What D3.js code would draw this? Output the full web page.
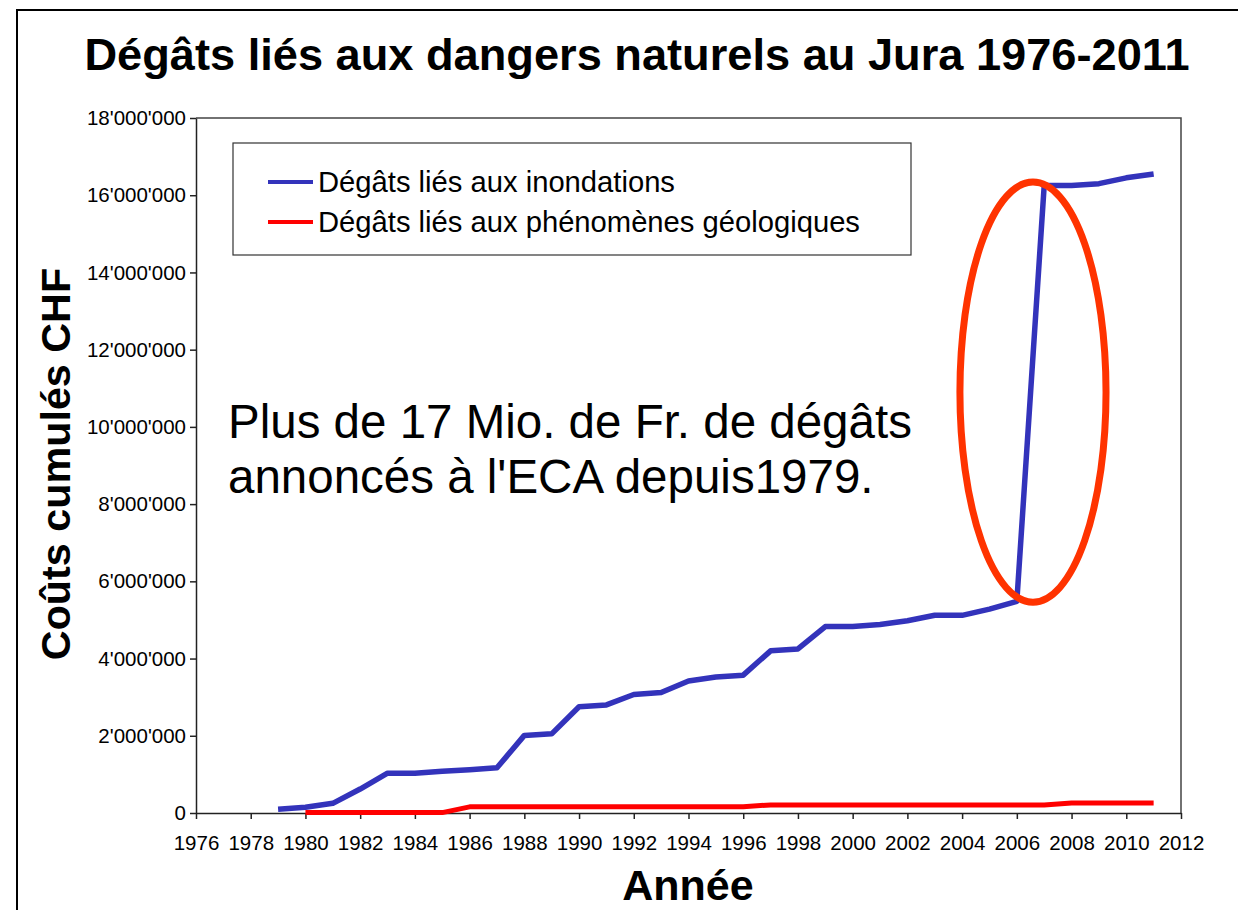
<!DOCTYPE html>
<html>
<head>
<meta charset="utf-8">
<script src="https://cdn.jsdelivr.net/npm/d3@7"></script>
<style>
  html, body { margin: 0; padding: 0; background: #fff; }
  svg { display: block; font-family: "Liberation Sans", Arial, sans-serif; }
</style>
</head>
<body>
<svg id="chart" width="1238" height="910"></svg>
<script>
const title = "Dégâts liés aux dangers naturels au Jura 1976-2011";
const yLabel = "Coûts cumulés CHF";
const xLabel = "Année";
const seriesNames = ["Dégâts liés aux inondations", "Dégâts liés aux phénomènes géologiques"];
const seriesColors = ["#3333bb", "#ff0000"];
const annotationLines = ["Plus de 17 Mio. de Fr. de dégâts", "annoncés à l'ECA depuis1979."];

const floodYears = [1979,1980,1981,1982,1983,1984,1985,1986,1987,1988,1989,1990,1991,1992,1993,1994,1995,1996,1997,1998,1999,2000,2001,2002,2003,2004,2005,2006,2007,2008,2009,2010,2011];
const floodValues = [100000,150000,250000,620000,1030000,1030000,1080000,1120000,1170000,2010000,2050000,2750000,2800000,3070000,3120000,3420000,3520000,3570000,4200000,4250000,4830000,4830000,4880000,4980000,5120000,5120000,5280000,5480000,16250000,16250000,16300000,16450000,16550000];

const geoYears = [1980,1981,1982,1983,1984,1985,1986,1987,1988,1989,1990,1991,1992,1993,1994,1995,1996,1997,1998,1999,2000,2001,2002,2003,2004,2005,2006,2007,2008,2009,2010,2011];
const geoValues = [10000,10000,10000,10000,10000,10000,160000,160000,160000,160000,160000,160000,160000,160000,160000,160000,160000,210000,210000,210000,210000,210000,210000,210000,210000,210000,210000,210000,260000,260000,260000,260000];

const xTicks = [1976,1978,1980,1982,1984,1986,1988,1990,1992,1994,1996,1998,2000,2002,2004,2006,2008,2010,2012];
const yTicks = [0,2000000,4000000,6000000,8000000,10000000,12000000,14000000,16000000,18000000];

// highlighted zone (ellipse) in data units
const highlight = { year: 2006.59, value: 10900000, halfYears: 2.67, halfValue: 5440000 };

const svg = d3.select("#chart");
const pLeft = 196, pRight = 1181, pTop = 118, pBottom = 813;

const x = d3.scaleLinear().domain([1976, 2012]).range([pLeft, pRight]);
const y = d3.scaleLinear().domain([0, 18000000]).range([pBottom, pTop]);
const fmt = d3.formatLocale({decimal: ".", thousands: "'", grouping: [3], currency: ["", ""]}).format(",");

// outer frame
svg.append("rect").attr("x", 17).attr("y", 10).attr("width", 1260).attr("height", 940)
  .attr("fill", "none").attr("stroke", "#000").attr("stroke-width", 2);

// title
svg.append("text").attr("x", 637).attr("y", 70).attr("text-anchor", "middle")
  .attr("font-size", 45.2).attr("font-weight", "bold").text(title);

// plot frame (top/right)
svg.append("path")
  .attr("d", `M${pLeft},${pTop}H${pRight}V${pBottom}`)
  .attr("fill", "none").attr("stroke", "#444").attr("stroke-width", 1.5);

// axes
const yAxis = svg.append("g").attr("transform", `translate(${pLeft},0)`)
  .call(d3.axisLeft(y).tickValues(yTicks).tickSize(6).tickSizeOuter(0).tickPadding(4).tickFormat(fmt));
yAxis.selectAll("text").attr("font-size", 20.5).attr("fill", "#000").attr("font-family", "Liberation Sans, Arial, sans-serif");
yAxis.selectAll("line, path").attr("stroke", "#222").attr("stroke-width", 1.5);

const xAxis = svg.append("g").attr("transform", `translate(0,${pBottom})`)
  .call(d3.axisBottom(x).tickValues(xTicks).tickSize(6).tickSizeOuter(0).tickPadding(16).tickFormat(d => String(d)));
xAxis.selectAll("text").attr("font-size", 20.5).attr("fill", "#000").attr("font-family", "Liberation Sans, Arial, sans-serif");
xAxis.selectAll("line, path").attr("stroke", "#222").attr("stroke-width", 1.5);

// axis labels
svg.append("text").attr("transform", `translate(70,464) rotate(-90)`).attr("text-anchor", "middle")
  .attr("font-size", 41.3).attr("font-weight", "bold").text(yLabel);
svg.append("text").attr("x", 688).attr("y", 900).attr("text-anchor", "middle")
  .attr("font-size", 43).attr("font-weight", "bold").text(xLabel);

// lines
const line = d3.line().x(d => x(d[0])).y(d => y(d[1]));
const geoData = geoYears.map((yr, i) => [yr, geoValues[i]]);
const floodData = floodYears.map((yr, i) => [yr, floodValues[i]]);

svg.append("path").datum(geoData).attr("d", line)
  .attr("fill", "none").attr("stroke", seriesColors[1]).attr("stroke-width", 5).attr("stroke-linejoin", "round");
svg.append("path").datum(floodData).attr("d", line)
  .attr("fill", "none").attr("stroke", seriesColors[0]).attr("stroke-width", 5.5).attr("stroke-linejoin", "round");

// legend
const lg = svg.append("g");
lg.append("rect").attr("x", 233).attr("y", 143).attr("width", 678).attr("height", 112)
  .attr("fill", "#fff").attr("stroke", "#333").attr("stroke-width", 1.2);
seriesNames.forEach((name, i) => {
  const cy = 182 + i * 40;
  lg.append("line").attr("x1", 268).attr("x2", 313).attr("y1", cy).attr("y2", cy)
    .attr("stroke", seriesColors[i]).attr("stroke-width", 4);
  lg.append("text").attr("x", 318).attr("y", cy + 10).attr("font-size", 29.2).text(name);
});

// annotation text
annotationLines.forEach((t, i) => {
  svg.append("text").attr("x", 228).attr("y", 438 + i * 55).attr("font-size", 47.5).text(t);
});

// highlight ellipse
svg.append("ellipse")
  .attr("cx", x(highlight.year)).attr("cy", y(highlight.value))
  .attr("rx", x(highlight.year + highlight.halfYears) - x(highlight.year))
  .attr("ry", y(highlight.value - highlight.halfValue) - y(highlight.value))
  .attr("fill", "none").attr("stroke", "#ff3300").attr("stroke-width", 7);
</script>
</body>
</html>
